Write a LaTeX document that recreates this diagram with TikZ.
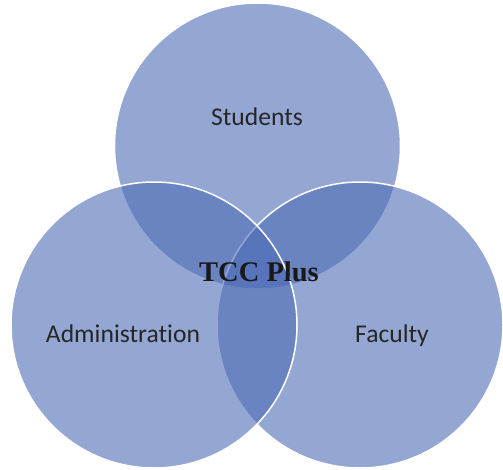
\documentclass[tikz,border=0pt]{standalone}
\usepackage{fontspec}
\setmainfont{Carlito}[Ligatures=NoCommon]
\newfontfamily\titlefont{Liberation Serif}
\definecolor{venn}{RGB}{77,108,182}
\definecolor{labeltext}{RGB}{38,38,38}
\begin{document}
\begin{tikzpicture}[x=1pt,y=-1pt,
  setcircle/.style={circle, minimum size=286pt, inner sep=0pt, outer sep=0pt,
    fill=venn, fill opacity=0.6, draw=white, line width=1.5pt},
  setlabel/.style={text=labeltext, font=\fontsize{25.6}{30}\selectfont, inner sep=0pt},
  centerlabel/.style={text=black!90, font=\titlefont\bfseries\fontsize{28.5}{32}\selectfont, inner sep=0pt}]
  \useasboundingbox (0,0) rectangle (503,469);
  % the three overlapping sets
  \node[setcircle] (students) at (257.5,146) {};
  \node[setcircle] (faculty) at (360,325) {};
  \node[setcircle] (admin) at (154,325) {};
  % set names
  \node[setlabel] (studentsText) at (257,117) {Students};
  \node[setlabel] (adminText) at (123,334) {Administration};
  \node[setlabel] (facultyText) at (392,336) {Faculty};
  % common core
  \node[centerlabel] (core) at (259,272) {TCC Plus};
\end{tikzpicture}
\end{document}
